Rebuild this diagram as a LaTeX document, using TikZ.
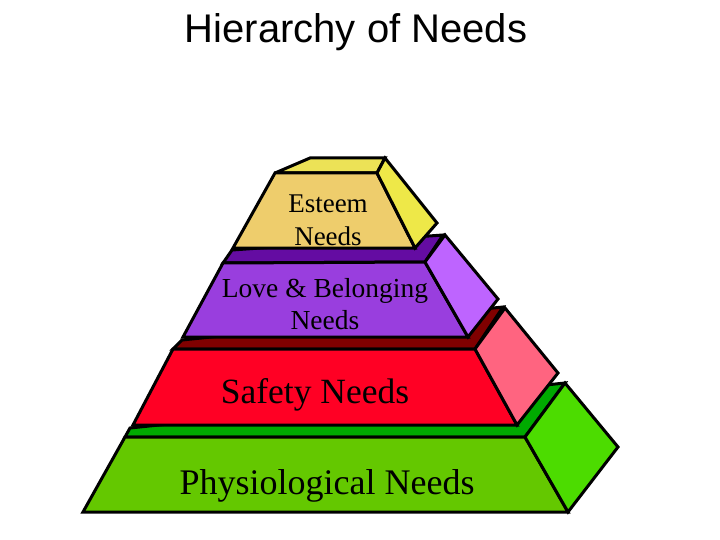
\documentclass[tikz,border=0pt]{standalone}
\usepackage{fontspec}
\setmainfont{Liberation Serif}
\newfontfamily\titlefont{Liberation Sans}
\definecolor{estF}{RGB}{238,205,108}
\definecolor{estS}{RGB}{238,232,72}
\definecolor{estT}{RGB}{236,226,86}
\definecolor{purF}{RGB}{153,62,222}
\definecolor{purS}{RGB}{190,100,255}
\definecolor{purT}{RGB}{100,12,162}
\definecolor{redF}{RGB}{255,0,36}
\definecolor{redS}{RGB}{255,100,128}
\definecolor{redT}{RGB}{128,0,0}
\definecolor{grnF}{RGB}{100,200,0}
\definecolor{grnS}{RGB}{76,220,0}
\definecolor{grnT}{RGB}{0,170,0}
\tikzset{
  face/.style={draw=black, line width=3pt, line join=miter, miter limit=4},
  lbl/.style={align=center, text=black, inner sep=0pt}
}
\begin{document}
\begin{tikzpicture}[x=1pt,y=-1pt]
\useasboundingbox (0,0) rectangle (720,540);
% title
\node[lbl, font=\titlefont\fontsize{40}{44}\selectfont] (title) at (356,32) {Hierarchy of Needs};
% green block
\filldraw[face, fill=grnT] (125,437) -- (130,428) -- (565,383) -- (525,437) -- cycle;
\filldraw[face, fill=grnF] (125,437) -- (525,437) -- (568,512) -- (83,512) -- cycle;
\filldraw[face, fill=grnS] (525,437) -- (565,383) -- (618,447) -- (568,512) -- cycle;
% red block
\filldraw[face, fill=redT] (173,349) -- (182,340) -- (503,307) -- (475,349) -- cycle;
\filldraw[face, fill=redF] (173,349) -- (475,349) -- (517,425) -- (133,425) -- cycle;
\filldraw[face, fill=redS] (475,349) -- (505,308) -- (558,373) -- (517,425) -- cycle;
% purple block
\filldraw[face, fill=purT] (223,263) -- (232,250) -- (443,235) -- (425,262) -- cycle;
\filldraw[face, fill=purF] (223,263) -- (425,262) -- (468,337) -- (183,337) -- cycle;
\filldraw[face, fill=purS] (425,262) -- (445,235) -- (498,299) -- (468,337) -- cycle;
% esteem block
\filldraw[face, fill=estT] (275,173) -- (310,158) -- (385,158) -- (377,173) -- cycle;
\filldraw[face, fill=estF] (275,173) -- (377,173) -- (415,248) -- (233,248) -- cycle;
\filldraw[face, fill=estS] (377,173) -- (385,158) -- (437,223) -- (415,248) -- cycle;
% labels
\node[lbl, font=\fontsize{27}{33}\selectfont] (esteem) at (328,220) {Esteem\\Needs};
\node[lbl, font=\fontsize{27.5}{32}\selectfont] (love) at (325,304) {Love \& Belonging\\Needs};
\node[lbl, font=\fontsize{35.5}{40}\selectfont] (safety) at (315,395) {Safety Needs};
\node[lbl, font=\fontsize{36}{40}\selectfont] (physio) at (327,486) {Physiological Needs};
\end{tikzpicture}
\end{document}
